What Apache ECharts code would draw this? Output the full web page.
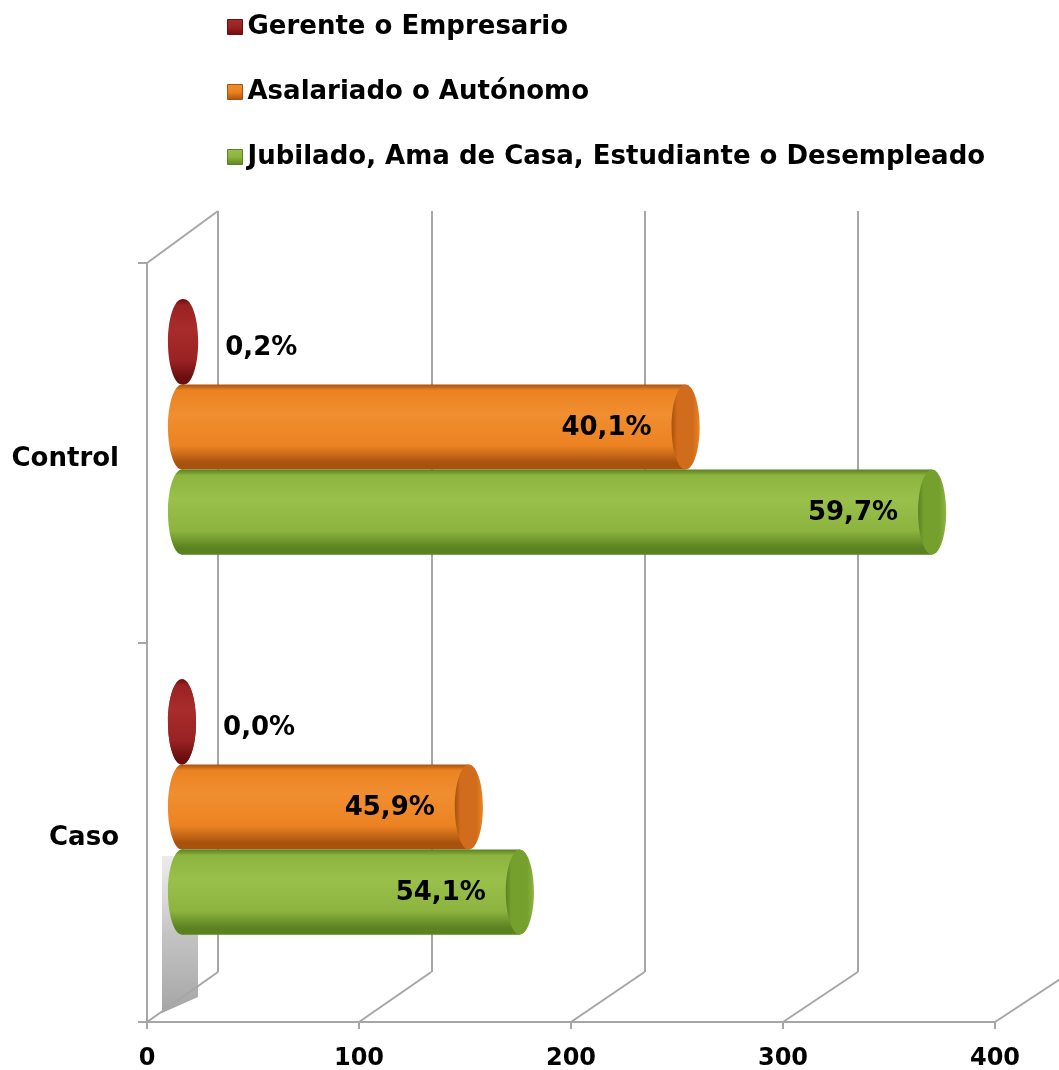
<!DOCTYPE html>
<html>
<head>
<meta charset="utf-8">
<script src="https://cdn.jsdelivr.net/npm/echarts@6/dist/echarts.min.js"></script>
<style>
  html, body { margin: 0; padding: 0; background: #ffffff; }
  #chart { width: 1059px; height: 1070px; }
</style>
</head>
<body>
<div id="chart"></div>
<script>
// Occupation by group (counts); labels show each share of its group total.
const categories = ['Caso', 'Control'];
const seriesNames = [
  'Gerente o Empresario',
  'Asalariado o Autónomo',
  'Jubilado, Ama de Casa, Estudiante o Desempleado'
];
const gerente = [0, 1];
const asalariado = [135, 237];
const jubilado = [159, 353];
const xTicks = [0, 100, 200, 300, 400];

const seriesValues = [gerente, asalariado, jubilado];
const totals = categories.map((c, i) => seriesValues.reduce((s, arr) => s + arr[i], 0));

const FONT = 'DejaVu Sans';
const palettes = [
  { base: '#9a2222', light: '#a82c2c', dark: '#6a0f0f', cap: '#8a1b1b' },
  { base: '#ec8222', light: '#f08e30', dark: '#a8520e', cap: '#d06c1c' },
  { base: '#8cb43e', light: '#98c04a', dark: '#5a8220', cap: '#76a02e' }
];

// Three planes of a 3D box: front axes, back wall, and the middle depth where bars sit
const FRONT = { left: 147, top: 263, width: 848, height: 759 };
const BACK = { left: 218, top: 211, width: 853, height: 761 };
const MID = { left: 182, top: 237, width: 850, height: 760 };

function bodyGradient(p) {
  return new echarts.graphic.LinearGradient(0, 0, 0, 1, [
    { offset: 0, color: p.dark },
    { offset: 0.07, color: p.base },
    { offset: 0.35, color: p.light },
    { offset: 0.72, color: p.base },
    { offset: 0.92, color: p.dark },
    { offset: 1, color: p.dark }
  ]);
}
function capGradient(p) {
  return new echarts.graphic.LinearGradient(0, 0, 1, 0, [
    { offset: 0, color: p.dark },
    { offset: 0.2, color: p.cap },
    { offset: 0.75, color: p.cap },
    { offset: 1, color: p.base }
  ]);
}
function iconGradient(p) {
  return new echarts.graphic.LinearGradient(0, 0, 0, 1, [
    { offset: 0, color: p.light },
    { offset: 0.5, color: p.base },
    { offset: 1, color: p.dark }
  ]);
}
function pctText(v, ci) {
  return (v / totals[ci] * 100).toFixed(1).replace('.', ',') + '%';
}

function cylinder(si) {
  const p = palettes[si];
  return function (params, api) {
    const ci = api.value(0);
    const val = api.value(1);
    const a = api.coord([0, ci]);
    const b = api.coord([val, ci]);
    const band = api.size([0, 1])[1];
    const h = band * 0.224;
    const cy = a[1] + (si - 1) * h;
    const rx = h * 0.165;
    const x0 = a[0], x1 = b[0];
    const children = [
      { type: 'ellipse', shape: { cx: x0, cy: cy, rx: rx, ry: h / 2 }, style: { fill: bodyGradient(p) } },
      { type: 'rect', shape: { x: x0, y: cy - h / 2, width: Math.max(x1 - x0, 0), height: h }, style: { fill: bodyGradient(p) } },
      { type: 'ellipse', shape: { cx: x1, cy: cy, rx: rx, ry: h / 2 }, style: { fill: val > 2 ? capGradient(p) : bodyGradient(p) } }
    ];
    const txt = pctText(val, ci);
    const inside = (x1 - x0) > 120;
    children.push({
      type: 'text',
      style: {
        text: txt,
        x: inside ? x1 - rx - 20 : x1 + rx + 27,
        y: inside ? cy + 1 : cy + 6,
        align: inside ? 'right' : 'left',
        verticalAlign: 'middle',
        fontFamily: FONT,
        fontWeight: 'bold',
        fontSize: 26,
        fill: '#000000'
      },
      z2: 10
    });
    return { type: 'group', children: children };
  };
}

const chart = echarts.init(document.getElementById('chart'), null, { renderer: 'canvas' });

const axisGrey = '#a6a6a6';
const gridBase = { containLabel: false, outerBoundsMode: 'none' };
const option = {
  animation: false,
  backgroundColor: '#ffffff',
  legend: {
    orient: 'vertical',
    left: 222,
    top: 9,
    itemWidth: 15,
    itemHeight: 15,
    itemGap: 39,
    icon: 'rect',
    textStyle: { fontFamily: FONT, fontWeight: 'bold', fontSize: 26, color: '#000', lineHeight: 26 },
    data: seriesNames.map((n, si) => ({
      name: n,
      itemStyle: { color: iconGradient(palettes[si]), borderColor: palettes[si].dark, borderWidth: 1 }
    }))
  },
  grid: [
    Object.assign({}, gridBase, FRONT),
    Object.assign({}, gridBase, BACK),
    Object.assign({}, gridBase, MID)
  ],
  xAxis: [
    {
      gridIndex: 0, type: 'value', min: 0, max: 400, interval: 100,
      axisLine: { show: true, lineStyle: { color: axisGrey, width: 2 } },
      axisTick: { show: true, length: 7, lineStyle: { color: axisGrey, width: 2 } },
      splitLine: { show: false },
      axisLabel: {
        margin: 25, color: '#000', fontFamily: FONT, fontWeight: 'bold', fontSize: 24,
        formatter: v => xTicks.indexOf(v) >= 0 ? String(v) : ''
      }
    },
    {
      gridIndex: 1, type: 'value', min: 0, max: 400, interval: 100,
      axisLine: { show: false }, axisTick: { show: false }, axisLabel: { show: false },
      splitLine: { show: true, lineStyle: { color: axisGrey, width: 2 } }
    },
    {
      gridIndex: 2, type: 'value', min: 0, max: 400, interval: 100, show: false
    }
  ],
  yAxis: [
    {
      gridIndex: 0, type: 'category', data: categories,
      axisLine: { show: true, lineStyle: { color: axisGrey, width: 2 } },
      axisTick: { show: true, length: 9, lineStyle: { color: axisGrey, width: 2 } },
      axisLabel: {
        margin: 28,
        formatter: v => '{c|' + v + '}',
        rich: {
          c: { color: '#000', fontFamily: FONT, fontWeight: 'bold', fontSize: 26, padding: [12, 0, 0, 0] }
        }
      }
    },
    {
      gridIndex: 1, type: 'category', data: categories, show: false
    },
    {
      gridIndex: 2, type: 'category', data: categories, show: false
    }
  ],
  series: seriesNames.map((name, si) => ({
    name: name,
    type: 'custom',
    xAxisIndex: 2,
    yAxisIndex: 2,
    renderItem: cylinder(si),
    itemStyle: { color: palettes[si].base, borderColor: palettes[si].dark, borderWidth: 1 },
    encode: { x: 1, y: 0 },
    data: categories.map((c, ci) => [ci, seriesValues[si][ci]]),
    clip: false,
    z: 5
  }))
};
chart.setOption(option);

// Depth edges joining the front axes to the back wall
const fx = v => chart.convertToPixel({ xAxisIndex: 0 }, v);
const bx = v => chart.convertToPixel({ xAxisIndex: 1 }, v);
const frontBottom = FRONT.top + FRONT.height;
const backBottom = BACK.top + BACK.height;
const edges = xTicks.map(v => ({
  type: 'line',
  shape: { x1: fx(v), y1: frontBottom, x2: bx(v), y2: backBottom },
  style: { stroke: axisGrey, lineWidth: 2 },
  z: 1
}));
edges.push({
  type: 'line',
  shape: { x1: fx(0), y1: FRONT.top, x2: bx(0), y2: BACK.top },
  style: { stroke: axisGrey, lineWidth: 2 },
  z: 1
});

// Soft shadow cast on the side wall beneath the lower group
const wallX = fx(0);
const shadow = {
  type: 'polygon',
  shape: {
    points: [
      [wallX + 15, 856], [wallX + 51, 856], [wallX + 51, 997], [wallX + 15, 1013]
    ]
  },
  style: {
    fill: new echarts.graphic.LinearGradient(0, 0, 0, 1, [
      { offset: 0, color: 'rgba(215,215,215,0.5)' },
      { offset: 0.5, color: 'rgba(185,185,185,0.85)' },
      { offset: 1, color: 'rgba(160,160,160,0.95)' }
    ])
  },
  z: 0
};
chart.setOption({ graphic: { elements: [shadow].concat(edges) } });
</script>
</body>
</html>
